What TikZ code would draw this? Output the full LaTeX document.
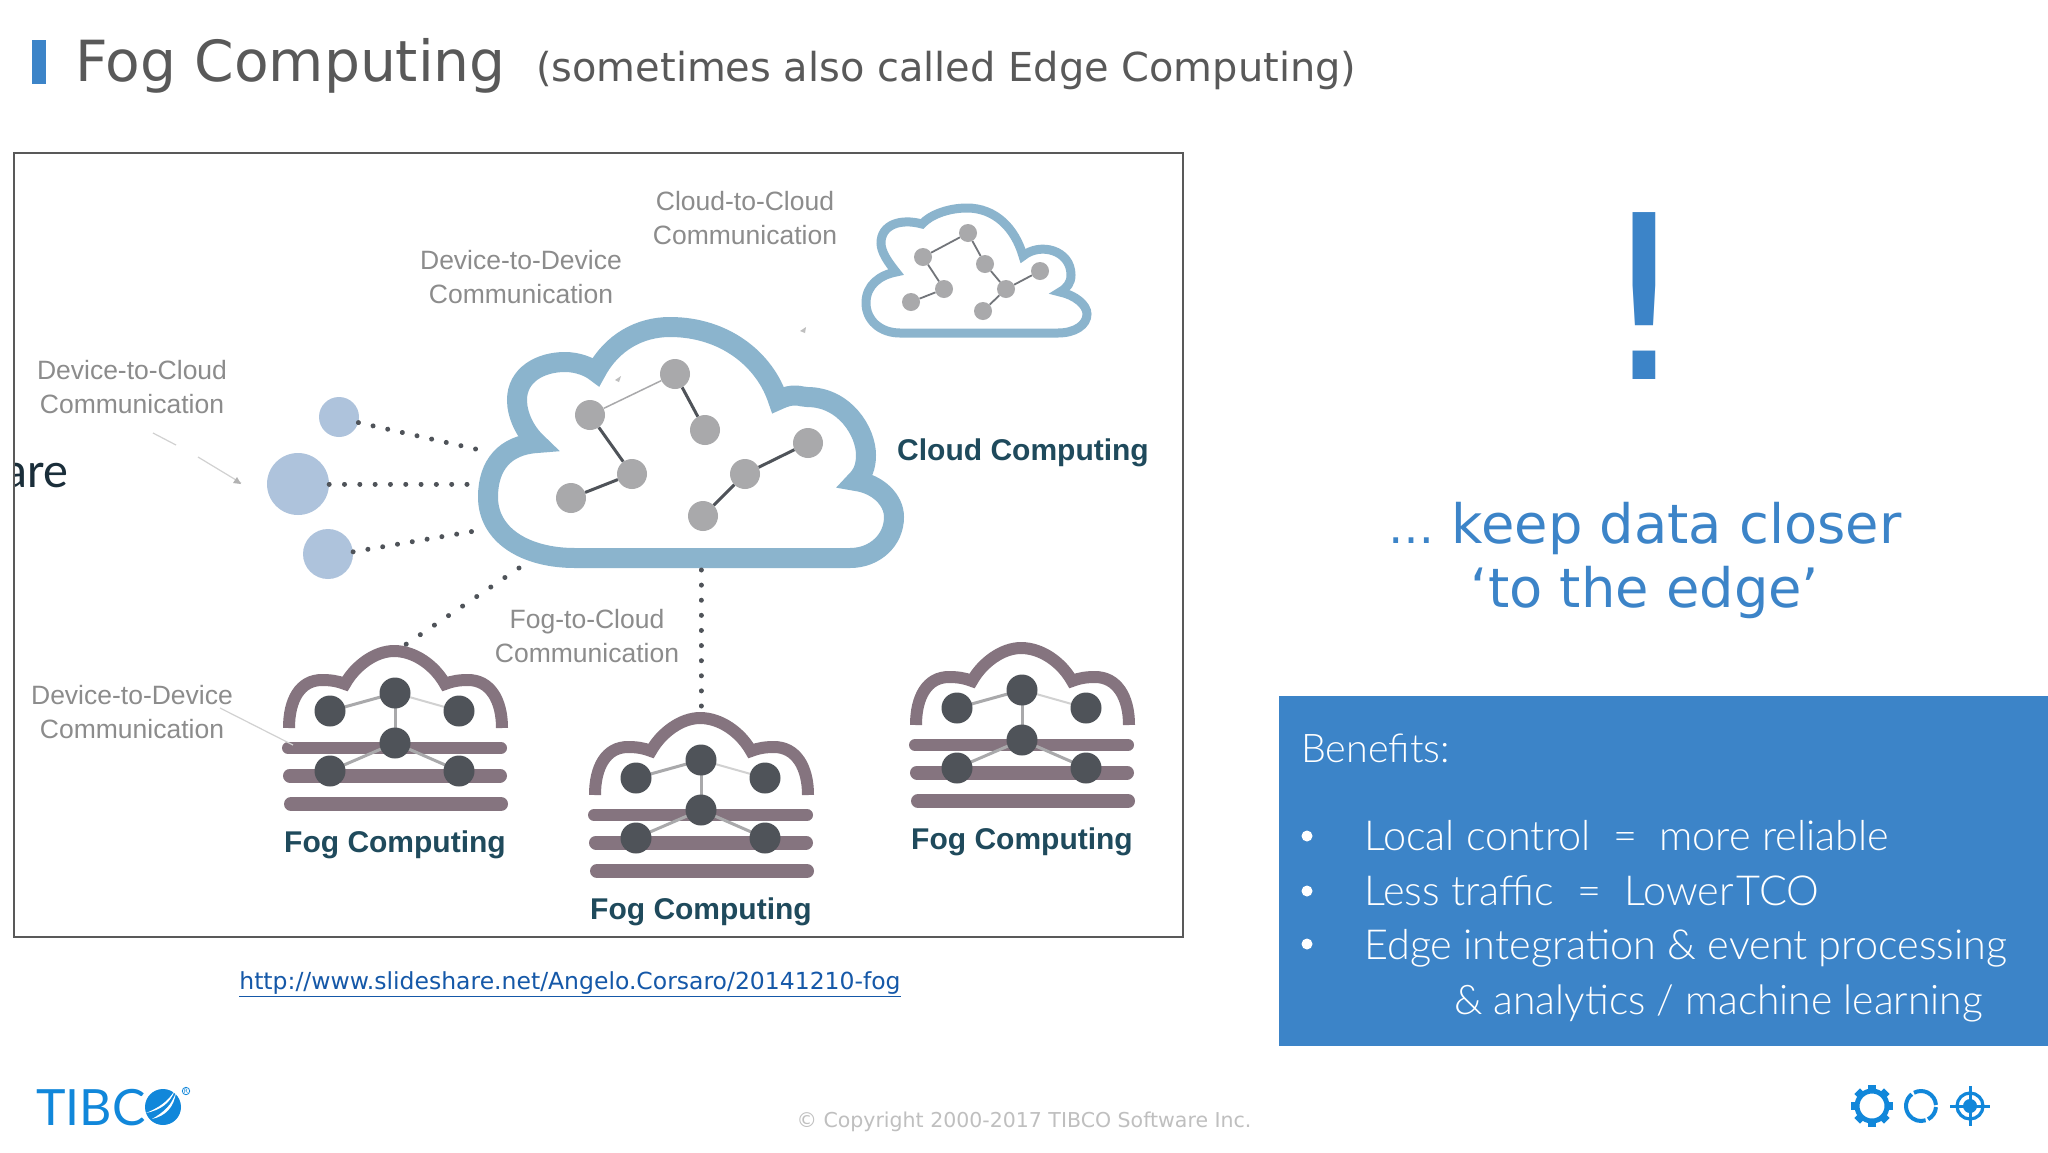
\documentclass[tikz,border=0pt]{standalone}
\usepackage{fontspec}
\setmainfont{DejaVu Sans}
\newfontfamily\labfont{Liberation Sans}
\newfontfamily\carlfont{Carlito}
\newfontfamily\benfont{Lato Light}
\newfontfamily\logofont{Lato}
\newcommand\fsz[1]{\fontsize{#1}{#1}\selectfont}
\definecolor{slideblue}{HTML}{3C84C8}
\definecolor{cloudblue}{HTML}{8BB4CD}
\definecolor{devblue}{HTML}{AEC3DC}
\definecolor{nodegrey}{HTML}{A9A9AB}
\definecolor{foggrey}{HTML}{85747F}
\definecolor{fognode}{HTML}{4F5359}
\definecolor{labgrey}{HTML}{8C8C8C}
\definecolor{boldteal}{HTML}{1F4A5C}
\definecolor{logoblue}{HTML}{1187DA}
\definecolor{titlegrey}{HTML}{595959}
\definecolor{urlblue}{HTML}{1558A8}
\definecolor{aretext}{HTML}{1A2E3A}
\tikzset{
  labeltxt/.style={font=\labfont\fsz{26.5},text=labgrey,align=center,inner sep=0pt},
  boldtxt/.style={font=\labfont\bfseries\fsz{30},text=boldteal,inner sep=0pt},
  bentxt/.style={font=\benfont\fsz{41.4},text=white,inner sep=0pt,anchor=base west},
  bigdot/.style={circle,fill=nodegrey,inner sep=0pt,minimum size=30pt},
  smalldot/.style={circle,fill=nodegrey,inner sep=0pt,minimum size=18pt},
  fogdot/.style={circle,fill=fognode,inner sep=0pt,minimum size=31pt},
  devdot/.style={circle,fill=devblue,inner sep=0pt},
  dotline/.style={line width=5pt,line cap=round,draw=fognode,dash pattern=on 0.01pt off #1},
  bar/.style={draw=foggrey,line width=#1,line cap=round},
  darkedge/.style={draw=fognode,line width=3pt},
  thinedge/.style={draw=nodegrey,line width=1.5pt},
  ann/.style={draw=black!18,line width=1.2pt},
  fogicon/.pic={
    \draw[bar=12pt] (288,748) -- (501,748);
    \draw[bar=14pt] (290,775.5) -- (500,775.5);
    \draw[bar=14pt] (291,804) -- (501,804);
    \draw[foggrey,line width=12pt,line join=miter]
      (289,728) .. controls (289,700) and (300,680) .. (322,680)
      .. controls (330,680) and (338,681) .. (345,684)
      .. controls (355,666) and (375,651) .. (394,651)
      .. controls (415,651) and (435,666) .. (445,684)
      .. controls (452,681) and (460,680) .. (468,680)
      .. controls (490,680) and (502,700) .. (502,728);
    \coordinate (a) at (330,711);
    \coordinate (b) at (395,693);
    \coordinate (c) at (459,711);
    \coordinate (d) at (395,743);
    \coordinate (e) at (330,771);
    \coordinate (f) at (459,771);
    \draw[nodegrey,line width=3pt] (a) -- (b);
    \draw[black!18,line width=2pt] (b) -- (c);
    \draw[nodegrey,line width=3pt] (b) -- (d);
    \draw[nodegrey,line width=3pt] (d) -- (e);
    \draw[nodegrey,line width=3pt] (d) -- (f);
    \node[fogdot] at (a) {};
    \node[fogdot] at (b) {};
    \node[fogdot] at (c) {};
    \node[fogdot] at (d) {};
    \node[fogdot] at (e) {};
    \node[fogdot] at (f) {};
    \node[boldtxt] (t) at (395,845) {Fog Computing};
  }
}
\begin{document}
\begin{tikzpicture}[x=1pt,y=-1pt]
\useasboundingbox (0,0) rectangle (2048,1152);
\fill[white] (0,0) rectangle (2048,1152);
% title
\fill[slideblue] (32,40) rectangle (46,84);
\node[font=\fsz{56.7},text=titlegrey,anchor=base west,inner sep=0pt] (title) at (75,81) {Fog Computing};
\node[font=\fsz{39.9},text=titlegrey,anchor=base west,inner sep=0pt] (subtitle) at (536,81) {(sometimes also called Edge Computing)};
% frame
\begin{scope}
\clip (14,153) rectangle (1183,937);
\node[font=\carlfont\fsz{50},text=aretext,anchor=base east,inner sep=0pt] (are) at (69,487) {are};
\end{scope}
\draw[black!65,line width=2pt] (14,153) rectangle (1183,937);
% annotation marks
\coordinate (q1) at (153,433); \coordinate (q2) at (176,445);
\coordinate (q3) at (198,457); \coordinate (q4) at (241,483);
\draw[ann] (q1) -- (q2);
\draw[ann] (q3) -- (q4);
\fill[black!30] (241,484) -- (233,483) -- (237,477) -- cycle;
\fill[black!25] (805,333) -- (800,331) -- (806,327) -- cycle;
% main cloud
\draw[cloudblue,line width=20pt,fill=white,line join=miter,miter limit=6]
  (850,558) -- (575,558)
  .. controls (525,558) and (488,535) .. (488,497)
  .. controls (488,465) and (505,445) .. (537,443)
  .. controls (525,432) and (517,415) .. (517,400)
  .. controls (517,375) and (540,362) .. (565,362)
  .. controls (578,362) and (590,367) .. (596,372)
  .. controls (612,342) and (640,327) .. (670,327)
  .. controls (725,327) and (765,360) .. (778,400)
  .. controls (795,392) and (800,397) .. (807,397)
  .. controls (845,397) and (866,432) .. (866,455)
  .. controls (866,468) and (862,475) .. (856,481)
  .. controls (878,484) and (894,500) .. (894,517)
  .. controls (894,540) and (875,558) .. (850,558) -- cycle;
\fill[black!25] (619,382) -- (615,380) -- (621,376) -- cycle;
\node[bigdot] (m1) at (590,415) {};
\node[bigdot] (m2) at (675,374) {};
\node[bigdot] (m3) at (705,430) {};
\node[bigdot] (m4) at (632,474) {};
\node[bigdot] (m5) at (571,498) {};
\node[bigdot] (m6) at (745,474) {};
\node[bigdot] (m7) at (808,443) {};
\node[bigdot] (m8) at (703,516) {};
\draw[thinedge] (m1) -- (m2);
\draw[darkedge] (m2) -- (m3);
\draw[darkedge] (m1) -- (m4);
\draw[darkedge] (m4) -- (m5);
\draw[darkedge] (m6) -- (m7);
\draw[darkedge] (m6) -- (m8);
% small cloud
\draw[cloudblue,line width=9pt,fill=white,line join=miter]
  (1058,333) -- (900,333)
  .. controls (880,333) and (866,320) .. (866,303)
  .. controls (866,285) and (880,275) .. (896,272)
  .. controls (888,262) and (881,252) .. (881,243)
  .. controls (881,225) and (900,218) .. (922,224)
  .. controls (930,215) and (948,208) .. (967,208)
  .. controls (995,208) and (1015,228) .. (1023,256)
  .. controls (1040,242) and (1071,250) .. (1071,275)
  .. controls (1071,283) and (1067,288) .. (1060,292)
  .. controls (1075,295) and (1087,305) .. (1087,314)
  .. controls (1087,325) and (1075,333) .. (1058,333) -- cycle;
\node[smalldot] (s1) at (923,257) {};
\node[smalldot] (s2) at (968,233) {};
\node[smalldot] (s3) at (985,264) {};
\node[smalldot] (s4) at (1040,271) {};
\node[smalldot] (s5) at (1006,289) {};
\node[smalldot] (s6) at (944,289) {};
\node[smalldot] (s7) at (911,302) {};
\node[smalldot] (s8) at (983,311) {};
\draw[fognode!80,line width=1.8pt] (s1) -- (s2);
\draw[fognode!80,line width=1.8pt] (s2) -- (s3);
\draw[fognode!80,line width=1.8pt] (s1) -- (s6);
\draw[fognode!80,line width=1.8pt] (s6) -- (s7);
\draw[fognode!80,line width=1.8pt] (s3) -- (s5);
\draw[fognode!80,line width=1.8pt] (s5) -- (s4);
\draw[fognode!80,line width=1.8pt] (s5) -- (s8);
% devices
\node[devdot,minimum size=40pt] (d1) at (339,417) {};
\node[devdot,minimum size=62pt] (d2) at (298,484) {};
\node[devdot,minimum size=50pt] (d3) at (328,554) {};
\coordinate (c1) at (480,450);
\coordinate (c2) at (469,484);
\coordinate (c3) at (475,531);
\coordinate (c4) at (519,568);
\coordinate (c5) at (701,570);
\draw[dotline=15pt] (d1.-16) -- (c1);
\draw[dotline=15.3pt] (d2.east) -- (c2);
\draw[dotline=15pt] (d3.5) -- (c3);
% fog clouds
\pic (fa) at (0,0) {fogicon};
\pic (fb) at (306,67) {fogicon};
\pic (fc) at (627,-3) {fogicon};
\coordinate (e4) at (405,645);
\coordinate (e5) at (701,707);
\draw[dotline=17pt] (c4) -- (e4);
\draw[dotline=15.1pt] (c5) -- (e5);
% device-to-device annotation on the fog layer
\coordinate (q5) at (220,708); \coordinate (q6) at (293,745);
\draw[ann] (q5) -- (q6);
% labels
\node[labeltxt] (l1) at (132,387) {Device-to-Cloud\\[8pt]Communication};
\node[labeltxt] (l2) at (521,277) {Device-to-Device\\[8pt]Communication};
\node[labeltxt] (l3) at (745,218) {Cloud-to-Cloud\\[8pt]Communication};
\node[labeltxt] (l4) at (587,636) {Fog-to-Cloud\\[8pt]Communication};
\node[labeltxt] (l5) at (132,712) {Device-to-Device\\[8pt]Communication};
\node[boldtxt] (l6) at (1023,453) {Cloud Computing};
% url
\node[font=\fsz{23.5},text=urlblue,inner sep=0pt] (url) at (570,984) {\underline{http://www.slideshare.net/Angelo.Corsaro/20141210-fog}};
% right
\node[font=\fsz{229},text=slideblue,anchor=base,inner sep=0pt] (bang) at (1644,379) {!};
\node[font=\fsz{54.3},text=slideblue,anchor=base,inner sep=0pt] (k1) at (1645,543) {{\fsz{46}…} keep data closer};
\node[font=\fsz{54.3},text=slideblue,anchor=base,inner sep=0pt] (k2) at (1645,607) {‘to the edge’};
% benefits
\fill[slideblue] (1279,696) rectangle (2048,1046);
\node[bentxt,font=\benfont\fsz{39.5}] (b0) at (1301,762) {Benefits:};
\node[bentxt] (b1) at (1364,850) {Local control\hspace{11pt} = \hspace{11pt}more reliable};
\node[bentxt] (b2) at (1364,905) {Less traffic\hspace{12pt} = \hspace{12pt}{\spaceskip=3pt Lower TCO}};
\node[bentxt] (b3) at (1364,959) {Edge integration \& event processing};
\node[bentxt,font=\benfont\fsz{40.8}] (b4) at (1454,1014) {\& analytics / machine learning};
\foreach \yy in {836,891,944}{\fill[white] (1307,\yy) circle (5.5);}
% copyright
\node[font=\fsz{20.5},text=black!25,inner sep=0pt] (copy) at (1024,1122) {© Copyright 2000-2017 TIBCO Software Inc.};
% logo
\node[font=\logofont\fsz{50},text=logoblue,anchor=base west,inner sep=0pt] (logo) at (36,1125) {TIBC};
\fill[logoblue] (163,1107) circle (18);
\fill[white] (175,1090) .. controls (168,1102) and (158,1108) .. (146,1113) .. controls (160,1110) and (170,1104) .. (175,1090) -- cycle;
\fill[white] (176,1092) .. controls (172,1105) and (164,1112) .. (152,1119) .. controls (165,1116) and (174,1108) .. (176,1092) -- cycle;
\node[text=logoblue,draw=logoblue,circle,line width=0.8pt,inner sep=0.5pt] (reg) at (186,1091) {\fsz{6}R};
% gear
\foreach \a in {0,45,...,315}{\fill[logoblue,shift={(1872,1106)},rotate=\a] (-4,-21) rectangle (4,-14);}
\draw[logoblue,line width=5pt] (1872,1106) circle (15);
% ring
\draw[logoblue,line width=4pt] (1921,1106) ++(-128:15) arc (-128:-288:15);
\draw[logoblue,line width=4pt] (1921,1106) ++(62:15) arc (62:4:15);
\draw[logoblue,line width=4pt] (1921,1106) ++(-4:15) arc (-4:-118:15);
% target
\draw[logoblue,line width=3.2pt] (1970,1106) circle (13);
\fill[logoblue] (1970,1106) circle (7);
\draw[logoblue,line width=3pt] (1950,1106) -- (1990,1106);
\draw[logoblue,line width=3pt] (1970,1086) -- (1970,1126);
\end{tikzpicture}
\end{document}
